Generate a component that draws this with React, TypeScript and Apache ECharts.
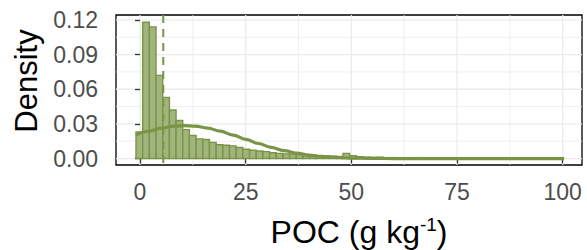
import React, { useEffect, useRef } from "react";
import * as echarts from "echarts";

// Histogram (density scale)
const binStart = -0.95;
const binWidth = 1.58;
const binDensity = [
  0.023, 0.118, 0.114, 0.072, 0.053, 0.042, 0.033, 0.025, 0.02, 0.017,
  0.0165, 0.014, 0.012, 0.0115, 0.011, 0.0095, 0.008, 0.0072, 0.0065, 0.006,
  0.005, 0.0045, 0.004, 0.0038, 0.0035, 0.003, 0.0028, 0.0025, 0.0022, 0.002,
  0.0018, 0.0045, 0.0025, 0.0015, 0.0012, 0.001, 0.0012, 0.0008, 0.0008, 0.0006,
  0.0006, 0.0005, 0.0008, 0.0005, 0.0004, 0.0004, 0.0003, 0.0004, 0.0003, 0.0003,
  0.0004, 0.0002, 0.0003, 0.0002, 0.0002, 0.0003, 0.0002, 0.0002, 0.0001, 0.0002,
  0.0002, 0.0001, 0.0001, 0.0002,
];

// Fitted density curve
const curveX = [-0.9, 2, 5, 8, 10.5, 13, 16, 19, 22, 25, 28, 31, 34, 37, 40, 43, 46, 50, 55, 60, 70, 80, 90, 100.3];
const curveY = [
  0.0205, 0.0235, 0.0263, 0.028, 0.0285, 0.0281, 0.0264, 0.0237, 0.0203, 0.0166,
  0.013, 0.0097, 0.0069, 0.0047, 0.003, 0.0018, 0.001, 0.0004, 0.0001, 0, 0, 0, 0, 0,
];

const medianPOC = 5.5;

const xTicks = [0, 25, 50, 75, 100];
const xMinor = [12.5, 37.5, 62.5, 87.5];
const yTicks = [0, 0.03, 0.06, 0.09, 0.12];
const yMinor = [0.015, 0.045, 0.075, 0.105];

const xMin = -5.68;
const xMax = 104.56;
const yMin = -0.0056;
const yMax = 0.1243;

const GREEN = "#7a9446";
const FILL = "#a2b47e";
const FONT = "Liberation Sans, Arial, Helvetica, sans-serif";

export default function App() {
  const ref = useRef<HTMLDivElement>(null);
  useEffect(() => {
    if (!ref.current) return;
    document.body.style.margin = "0";
    const chart = echarts.init(ref.current, null, { renderer: "svg" });

    const gridData: number[][] = [
      ...xTicks.map((v) => [0, v, 1]),
      ...xMinor.map((v) => [0, v, 0]),
      ...yTicks.map((v) => [1, v, 1]),
      ...yMinor.map((v) => [1, v, 0]),
    ];

    const histData = binDensity.map((d, i) => [
      binStart + i * binWidth,
      binStart + (i + 1) * binWidth,
      d,
    ]);

    chart.setOption({
      animation: false,
      backgroundColor: "#ffffff",
      grid: {
        left: 116,
        right: 5,
        top: 15,
        bottom: 85,
        show: true,
        borderColor: "#000",
        borderWidth: 1.3,
        backgroundColor: "#fff",
        containLabel: false,
        outerBoundsMode: "none",
      },
      graphic: [
        {
          type: "text",
          x: 26,
          y: 81,
          rotation: Math.PI / 2,
          style: {
            text: "Density",
            fontSize: 31,
            fontFamily: FONT,
            fill: "#000",
            align: "center",
            verticalAlign: "middle",
          },
        },
      ],
      xAxis: {
        type: "value",
        min: xMin,
        max: xMax,
        splitLine: { show: false },
        axisLine: { show: false },
        axisTick: {
          show: true,
          customValues: xTicks,
          length: 5,
          lineStyle: { color: "#333", width: 1.3 },
        },
        axisLabel: {
          customValues: xTicks,
          color: "#4d4d4d",
          fontSize: 23,
          fontFamily: FONT,
          margin: 15,
        },
        name: "POC (g kg{sup|-1})",
        nameLocation: "middle",
        nameGap: 50,
        nameTextStyle: {
          color: "#000",
          fontSize: 32,
          fontFamily: FONT,
          padding: [0, 0, 0, 20],
          rich: {
            sup: { fontSize: 19, fontFamily: FONT, color: "#000", verticalAlign: "top", padding: [0, 0, 14, 0] },
          },
        },
      },
      yAxis: {
        type: "value",
        min: yMin,
        max: yMax,
        splitLine: { show: false },
        axisLine: { show: false },
        axisTick: {
          show: true,
          customValues: yTicks,
          length: 5,
          lineStyle: { color: "#333", width: 1.3 },
        },
        axisLabel: {
          customValues: yTicks,
          formatter: (v: number) => v.toFixed(2),
          color: "#4d4d4d",
          fontSize: 23,
          fontFamily: FONT,
          margin: 18,
        },
      },
      series: [
        {
          type: "custom",
          z: 0,
          silent: true,
          data: gridData,
          encode: { x: 1, y: 1 },
          clip: false,
          renderItem: (params: any, api: any) => {
            const cs = params.coordSys;
            const kind = api.value(0);
            const v = api.value(1);
            const major = api.value(2) === 1;
            const style = { stroke: "#ebebeb", lineWidth: major ? 1.3 : 0.8 };
            if (kind === 0) {
              const x = api.coord([v, 0])[0];
              return { type: "line", shape: { x1: x, y1: cs.y, x2: x, y2: cs.y + cs.height }, style };
            }
            const y = api.coord([0, v])[1];
            return { type: "line", shape: { x1: cs.x, y1: y, x2: cs.x + cs.width, y2: y }, style };
          },
        },
        {
          type: "custom",
          z: 2,
          silent: true,
          data: histData,
          encode: { x: [0, 1], y: 2 },
          renderItem: (params: any, api: any) => {
            const p0 = api.coord([api.value(0), api.value(2)]);
            const p1 = api.coord([api.value(1), 0]);
            return {
              type: "rect",
              shape: { x: p0[0], y: p0[1], width: p1[0] - p0[0], height: p1[1] - p0[1] },
              style: { fill: FILL, stroke: GREEN, lineWidth: 1.4 },
            };
          },
        },
        {
          type: "line",
          z: 3,
          silent: true,
          data: curveX.map((x, i) => [x, curveY[i]]),
          smooth: 0.4,
          smoothMonotone: "x",
          symbol: "none",
          lineStyle: { color: GREEN, width: 3.2 },
        },
        {
          type: "custom",
          z: 4,
          silent: true,
          data: [[medianPOC]],
          encode: { x: 0 },
          renderItem: (params: any, api: any) => {
            const cs = params.coordSys;
            const x = api.coord([api.value(0), 0])[0];
            return {
              type: "line",
              shape: { x1: x, y1: cs.y, x2: x, y2: cs.y + cs.height },
              style: { stroke: GREEN, lineWidth: 2, lineDash: [8, 6] },
            };
          },
        },
      ],
    });
    return () => chart.dispose();
  }, []);
  return <div ref={ref} style={{ width: 587, height: 250 }} />;
}
